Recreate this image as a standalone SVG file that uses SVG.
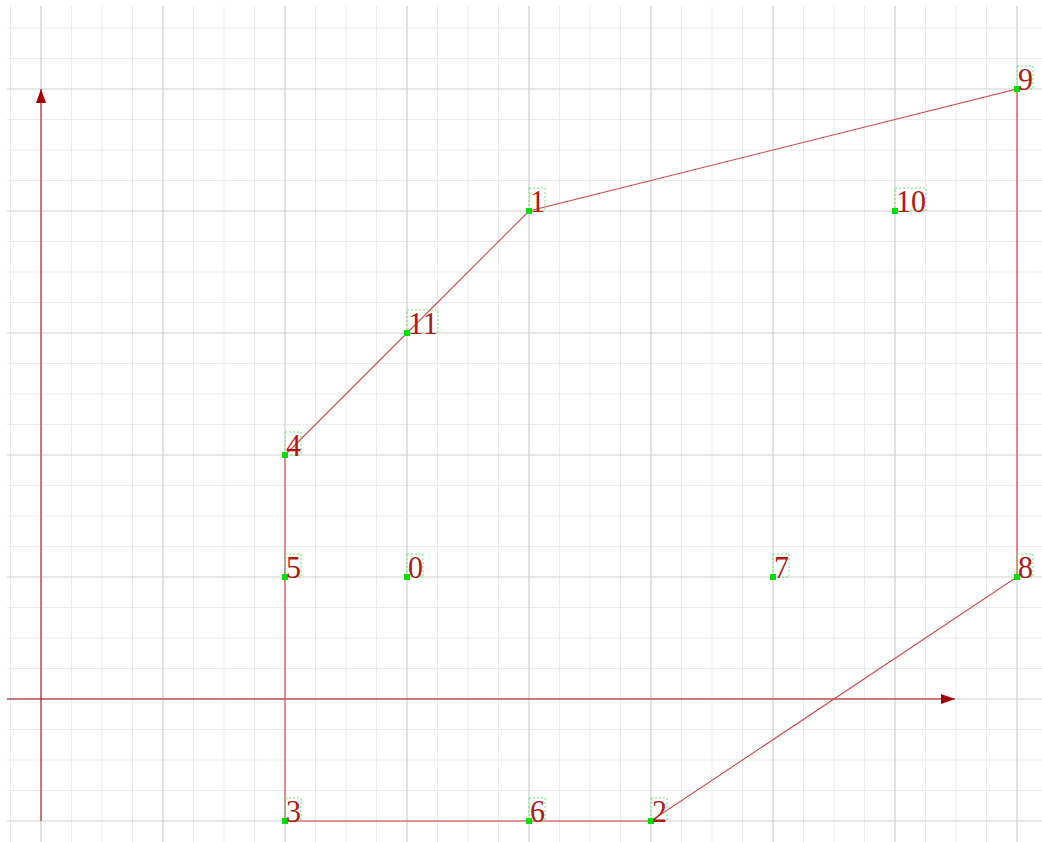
<svg xmlns="http://www.w3.org/2000/svg" width="1042" height="842" viewBox="0 0 1042 842">
<style>
.minor{stroke:#ebebeb;stroke-width:1;fill:none}
.major{stroke:#cfcfcf;stroke-width:1.2;fill:none}
.axis{stroke:#a01010;stroke-width:1;fill:none}
.edge{stroke:#d04848;stroke-width:1.1;fill:none}
.pt{fill:#00e000}
.box{fill:none;stroke:#66ee66;stroke-width:1;stroke-dasharray:2,2}
.lbl{font-family:"Liberation Serif","DejaVu Serif",serif;font-size:32px;fill:#b01818}
</style>
<defs>
<marker id="ah" viewBox="0 0 14 10" refX="14" refY="5" markerWidth="14" markerHeight="10" markerUnits="userSpaceOnUse" orient="auto">
<path d="M0,0 L14,5 L0,10 Z" fill="#a00000"/>
</marker>
</defs>
<rect width="1042" height="842" fill="#ffffff"/>
<g id="grid">
<path class="minor" d="M10.5,6V842M71.5,6V842M102,6V842M132.5,6V842M193.5,6V842M224,6V842M254.5,6V842M315.5,6V842M346,6V842M376.5,6V842M437.5,6V842M468,6V842M498.5,6V842M559.5,6V842M590,6V842M620.5,6V842M681.5,6V842M712,6V842M742.5,6V842M803.5,6V842M834,6V842M864.5,6V842M925.5,6V842M956,6V842M986.5,6V842"/>
<path class="minor" d="M7,28H1042M7,58.5H1042M7,119.5H1042M7,150H1042M7,180.5H1042M7,241.5H1042M7,272H1042M7,302.5H1042M7,363.5H1042M7,394H1042M7,424.5H1042M7,485.5H1042M7,516H1042M7,546.5H1042M7,607.5H1042M7,638H1042M7,668.5H1042M7,729.5H1042M7,760H1042M7,790.5H1042"/>
<path class="major" d="M41,6V842M163,6V842M285,6V842M407,6V842M529,6V842M651,6V842M773,6V842M895,6V842M1017,6V842"/>
<path class="major" d="M7,89H1042M7,211H1042M7,333H1042M7,455H1042M7,577H1042M7,699H1042M7,821H1042"/>
</g>
<g id="axes">
<line class="axis" x1="7" y1="699" x2="955" y2="699" marker-end="url(#ah)"/>
<line class="axis" x1="41" y1="821" x2="41" y2="89" marker-end="url(#ah)"/>
</g>
<g id="connectors">
<path class="edge" d="M285,455 L407,333 L529,211 L1017,89 L1017,577 L651,821 L529,821 L285,821 L285,577 Z"/>
</g>
<g id="n0"><rect class="box" x="407" y="554" width="16" height="23"/><rect class="pt" x="404" y="574" width="6" height="6"/><text class="lbl" x="408" y="578" textLength="15" lengthAdjust="spacingAndGlyphs">0</text></g>
<g id="n1"><rect class="box" x="529" y="188" width="16" height="23"/><rect class="pt" x="526" y="208" width="6" height="6"/><text class="lbl" x="530" y="212" textLength="15" lengthAdjust="spacingAndGlyphs">1</text></g>
<g id="n2"><rect class="box" x="651" y="798" width="16" height="23"/><rect class="pt" x="648" y="818" width="6" height="6"/><text class="lbl" x="652" y="822" textLength="15" lengthAdjust="spacingAndGlyphs">2</text></g>
<g id="n3"><rect class="box" x="285" y="798" width="16" height="23"/><rect class="pt" x="282" y="818" width="6" height="6"/><text class="lbl" x="286" y="822" textLength="15" lengthAdjust="spacingAndGlyphs">3</text></g>
<g id="n4"><rect class="box" x="285" y="432" width="16" height="23"/><rect class="pt" x="282" y="452" width="6" height="6"/><text class="lbl" x="286" y="456" textLength="15" lengthAdjust="spacingAndGlyphs">4</text></g>
<g id="n5"><rect class="box" x="285" y="554" width="16" height="23"/><rect class="pt" x="282" y="574" width="6" height="6"/><text class="lbl" x="286" y="578" textLength="15" lengthAdjust="spacingAndGlyphs">5</text></g>
<g id="n6"><rect class="box" x="529" y="798" width="16" height="23"/><rect class="pt" x="526" y="818" width="6" height="6"/><text class="lbl" x="530" y="822" textLength="15" lengthAdjust="spacingAndGlyphs">6</text></g>
<g id="n7"><rect class="box" x="773" y="554" width="16" height="23"/><rect class="pt" x="770" y="574" width="6" height="6"/><text class="lbl" x="774" y="578" textLength="15" lengthAdjust="spacingAndGlyphs">7</text></g>
<g id="n8"><rect class="box" x="1017" y="554" width="16" height="23"/><rect class="pt" x="1014" y="574" width="6" height="6"/><text class="lbl" x="1018" y="578" textLength="15" lengthAdjust="spacingAndGlyphs">8</text></g>
<g id="n9"><rect class="box" x="1017" y="66" width="16" height="23"/><rect class="pt" x="1014" y="86" width="6" height="6"/><text class="lbl" x="1018" y="90" textLength="15" lengthAdjust="spacingAndGlyphs">9</text></g>
<g id="n10"><rect class="box" x="895" y="188" width="31" height="23"/><rect class="pt" x="892" y="208" width="6" height="6"/><text class="lbl" x="896" y="212" textLength="30" lengthAdjust="spacingAndGlyphs">10</text></g>
<g id="n11"><rect class="box" x="407" y="310" width="31" height="23"/><rect class="pt" x="404" y="330" width="6" height="6"/><text class="lbl" x="408" y="334" textLength="30" lengthAdjust="spacingAndGlyphs">11</text></g>
</svg>
